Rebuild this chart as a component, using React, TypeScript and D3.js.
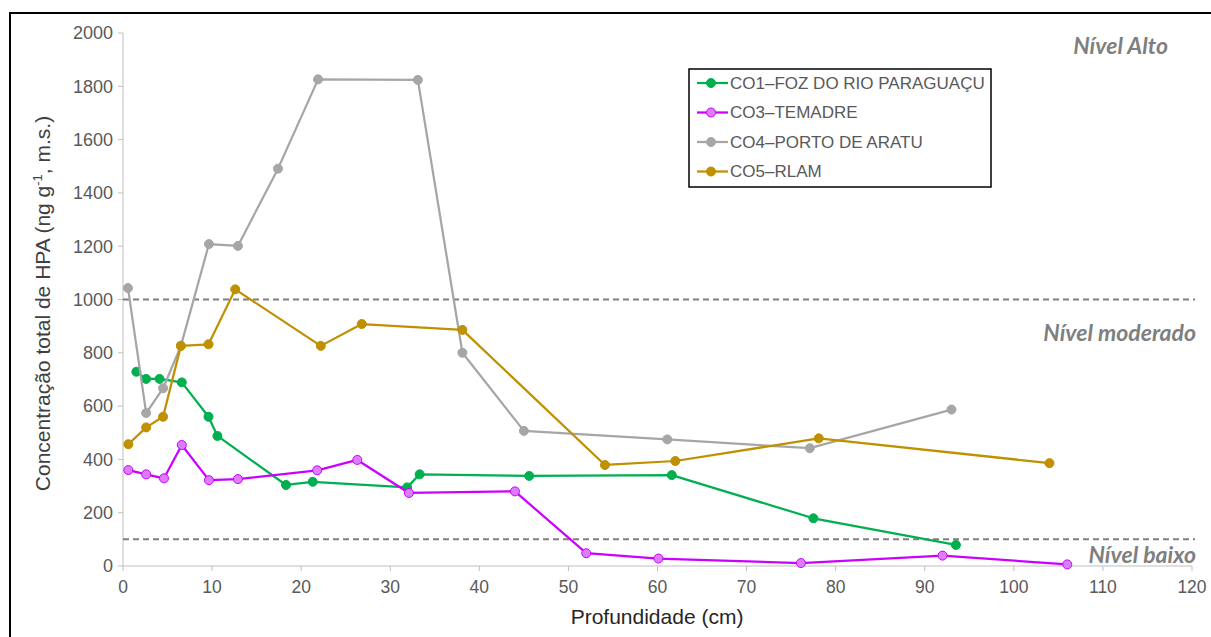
import React from "react";
import * as d3 from "d3";

const xTicks = [0, 10, 20, 30, 40, 50, 60, 70, 80, 90, 100, 110, 120];
const yTicks = [0, 200, 400, 600, 800, 1000, 1200, 1400, 1600, 1800, 2000];
const thresholds = [1000, 100];

const co1X = [1.5, 2.6, 4.1, 6.6, 9.6, 10.6, 18.3, 21.3, 31.9, 33.3, 45.6, 61.6, 77.5, 93.5];
const co1Y = [729, 702, 702, 689, 560, 488, 304, 316, 295, 344, 338, 341, 179, 79];

const co3X = [0.6, 2.6, 4.6, 6.6, 9.65, 12.9, 21.8, 26.3, 32.1, 44.0, 52.0, 60.1, 76.1, 92.0, 106.0];
const co3Y = [360, 344, 329, 454, 322, 326, 359, 398, 274, 280, 48, 28, 11, 39, 6];

const co4X = [0.56, 2.6, 4.5, 6.5, 9.65, 12.9, 17.4, 21.9, 33.1, 38.1, 45.0, 61.1, 77.1, 93.0];
const co4Y = [1043, 574, 667, 826, 1208, 1201, 1491, 1826, 1824, 800, 507, 475, 442, 587];

const co5X = [0.6, 2.6, 4.5, 6.5, 9.6, 12.6, 22.2, 26.8, 38.1, 54.1, 62.0, 78.1, 104.0];
const co5Y = [457, 520, 560, 826, 832, 1038, 826, 908, 886, 379, 394, 479, 386];

const seriesNames = ["CO1–FOZ DO RIO PARAGUAÇU", "CO3–TEMADRE", "CO4–PORTO DE ARATU", "CO5–RLAM"];
const seriesColors = ["#00b050", "#cc00ff", "#a6a6a6", "#bf9000"];
const markerFills = ["#00b050", "#dc7cff", "#a6a6a6", "#bf9000"];

const levelLabels = [
  { text: "Nível Alto", value: 1921, right: 1168 },
  { text: "Nível moderado", value: 844, right: 1196 },
  { text: "Nível baixo", value: 11, right: 1196 },
];

export default function App() {
  const W = 1211, H = 637;
  const x = d3.scaleLinear().domain([0, 120]).range([123, 1192]);
  const y = d3.scaleLinear().domain([0, 2000]).range([566, 33]);
  const xs = [co1X, co3X, co4X, co5X];
  const ys = [co1Y, co3Y, co4Y, co5Y];
  const line = d3.line<[number, number]>().x(d => x(d[0])).y(d => y(d[1]));
  const tickColor = "#595959";
  const axisColor = "#bfbfbf";
  const font = "'Liberation Sans', Arial, sans-serif";

  return (
    <svg width={W} height={H} style={{ position: "absolute", left: 0, top: 0, background: "#fff" }} fontFamily={font}>
      <rect x={10} y={13} width={1230} height={660} fill="#fff" stroke="#000" strokeWidth={2} />
      {/* axes */}
      <line x1={x(0)} x2={x(0)} y1={y(0)} y2={y(2000)} stroke={axisColor} strokeWidth={1} />
      <line x1={x(0)} x2={x(120)} y1={y(0)} y2={y(0)} stroke={axisColor} strokeWidth={1} />
      {yTicks.map(t => (
        <g key={"y" + t}>
          <line x1={x(0) - 5} x2={x(0)} y1={y(t)} y2={y(t)} stroke={axisColor} />
          <text x={x(0) - 10} y={y(t)} dy="0.35em" textAnchor="end" fontSize={18} fill={tickColor}>{t}</text>
        </g>
      ))}
      {xTicks.map(t => (
        <g key={"x" + t}>
          <line x1={x(t)} x2={x(t)} y1={y(0)} y2={y(0) + 5} stroke={axisColor} />
          <text x={x(t)} y={y(0) + 27} textAnchor="middle" fontSize={17.5} fill={tickColor}>{t}</text>
        </g>
      ))}
      {/* thresholds */}
      {thresholds.map(v => (
        <line key={"th" + v} x1={x(0)} x2={1195} y1={y(v)} y2={y(v)} stroke="#7f7f7f" strokeWidth={2} strokeDasharray="6,4" />
      ))}
      {levelLabels.map(l => (
        <text key={l.text} x={l.right} y={y(l.value)} textAnchor="end" fontSize={23} fontStyle="italic" fontWeight="bold" fill="#7f7f7f" fontFamily="Lato, 'Open Sans', sans-serif">{l.text}</text>
      ))}
      {/* series */}
      {xs.map((sx, i) => {
        const pts: [number, number][] = sx.map((v, j) => [v, ys[i][j]]);
        return (
          <g key={"s" + i}>
            <path d={line(pts) || ""} fill="none" stroke={seriesColors[i]} strokeWidth={2.25} strokeLinejoin="round" />
            {pts.map((p, j) => (
              <circle key={j} cx={x(p[0])} cy={y(p[1])} r={4.5} fill={markerFills[i]} stroke={seriesColors[i]} strokeWidth={1} />
            ))}
          </g>
        );
      })}
      {/* legend */}
      <rect x={689} y={69} width={302} height={118} fill="#fff" stroke="#000" strokeWidth={1.5} />
      {seriesNames.map((n, i) => {
        const ly = 83 + i * 29.5;
        return (
          <g key={"lg" + i}>
            <line x1={697} x2={728} y1={ly} y2={ly} stroke={seriesColors[i]} strokeWidth={2.25} />
            <circle cx={711} cy={ly} r={4.5} fill={markerFills[i]} stroke={seriesColors[i]} strokeWidth={1} />
            <text x={730} y={ly} dy="0.35em" fontSize={17} fill={tickColor}>{n}</text>
          </g>
        );
      })}
      {/* axis titles */}
      <text x={657} y={624} textAnchor="middle" fontSize={21} fill="#262626">Profundidade (cm)</text>
      <text transform={`translate(50,${y(1000) + 4}) rotate(-90)`} textAnchor="middle" fontSize={21} fill="#404040">
        Concentração total de HPA (ng g<tspan dy={-8} fontSize={13}>-1</tspan><tspan dy={8}>, m.s.)</tspan>
      </text>
    </svg>
  );
}
